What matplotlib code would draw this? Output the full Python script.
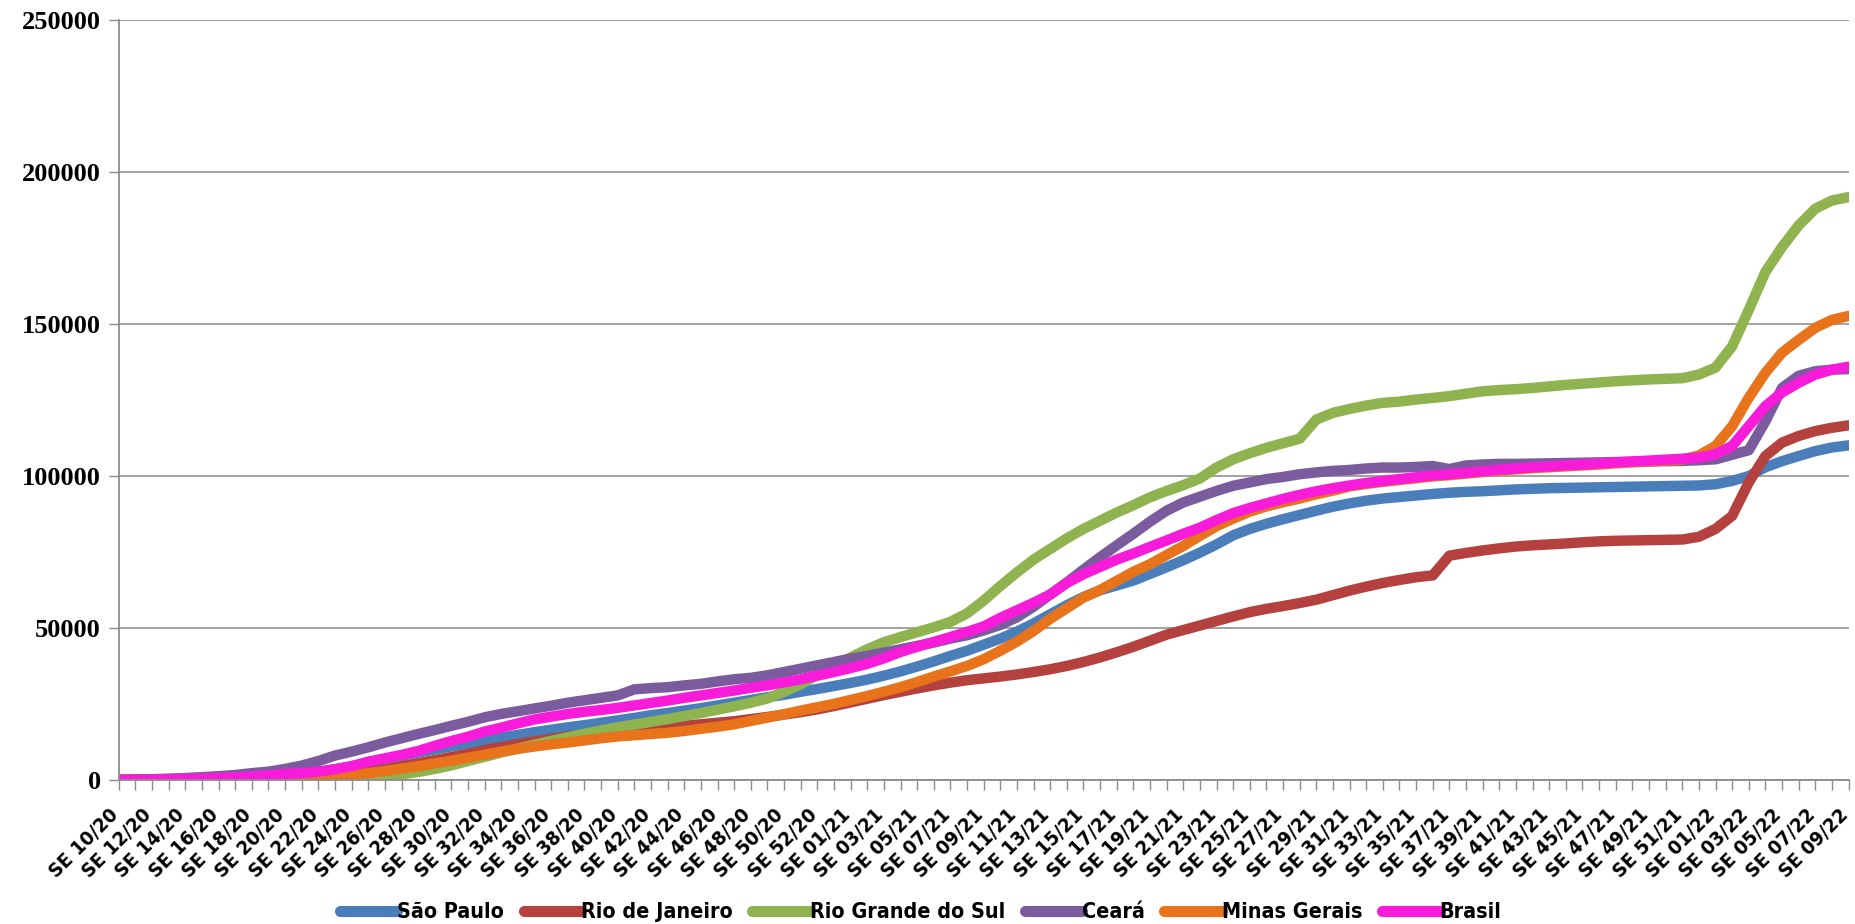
import matplotlib
matplotlib.use("Agg")
import matplotlib.pyplot as plt
from matplotlib import font_manager
from matplotlib.ticker import MultipleLocator, FixedLocator
from matplotlib.transforms import ScaledTranslation

# semanas epidemiologicas: SE 10/20 ... SE 53/20, SE 01/21 ... SE 52/21, SE 01/22 ... SE 09/22
semanas = ([f"SE {w:02d}/20" for w in range(10, 54)]
           + [f"SE {w:02d}/21" for w in range(1, 53)]
           + [f"SE {w:02d}/22" for w in range(1, 10)])

sao_paulo = [
    0, 50, 100, 150, 250, 400, 550, 750, 1000, 1300,
    1600, 2100, 2700, 3500, 4500, 5600, 6800, 7900, 9000, 10000,
    11000, 12000, 13000, 13900, 14800, 15700, 16500, 17300, 18000, 18800,
    19600, 20400, 21300, 22000, 22800, 23600, 24500, 25400, 26300, 27200,
    28000, 29000, 29900, 30900, 31900, 33000, 34300, 35700, 37300, 39000,
    40800, 42500, 44500, 46500, 48800, 51500, 54500, 57500, 60200, 62400,
    64000, 65600, 67800, 70000, 72300, 74800, 77500, 80500, 82600, 84300,
    85800, 87200, 88600, 89900, 91000, 91900, 92600, 93100, 93600, 94100,
    94500, 94800, 95000, 95300, 95600, 95800, 96000, 96100, 96200, 96300,
    96400, 96500, 96600, 96700, 96800, 96900, 97300, 98400, 100000, 102900,
    104900, 106600, 108200, 109400, 110100]

rio_janeiro = [
    0, 0, 0, 0, 0, 0, 0, 0, 0, 100,
    200, 400, 700, 1100, 1800, 2600, 3500, 4500, 5500, 6500,
    7500, 8600, 9800, 10800, 11800, 12700, 13500, 14300, 15000, 15600,
    16200, 16600, 17000, 17400, 17800, 18300, 18800, 19300, 20000, 20700,
    21500, 22300, 23200, 24300, 25500, 26700, 27900, 29000, 30100, 31100,
    32000, 32800, 33400, 34000, 34700, 35500, 36400, 37500, 38800, 40300,
    42000, 43800, 45800, 47800, 49300, 50800, 52300, 53800, 55200, 56300,
    57200, 58200, 59300, 60800, 62300, 63600, 64800, 65800, 66700, 67300,
    73800, 74700, 75500, 76200, 76800, 77200, 77500, 77800, 78200, 78500,
    78700, 78800, 78900, 79000, 79100, 80000, 82600, 86900, 97900, 106600,
    111000, 113200, 114800, 115900, 116700]

rio_grande_sul = [
    0, 0, 0, 0, 0, 0, 0, 0, 0, 0,
    0, 0, 0, 0, 300, 700, 1200, 1800, 2600, 3600,
    4800, 6200, 7600, 9000, 10300, 11600, 12800, 14000, 15200, 16300,
    17300, 18200, 19100, 20000, 21000, 22000, 23100, 24200, 25400, 26800,
    29000, 31500, 34500, 37500, 40300, 43000, 45300, 47000, 48600, 50200,
    52000, 54800, 59000, 63800, 68300, 72500, 76000, 79500, 82600, 85300,
    88000, 90400, 93000, 95100, 97000, 99200, 102800, 105500, 107500, 109300,
    110800, 112300, 118600, 120800, 122100, 123200, 124100, 124500, 125200, 125700,
    126300, 127100, 127900, 128300, 128600, 129000, 129500, 130000, 130400, 130800,
    131200, 131500, 131800, 132000, 132200, 133400, 135700, 142700, 154700, 167200,
    175400, 182500, 188000, 190700, 191800]

ceara = [
    0, 100, 200, 400, 600, 900, 1200, 1600, 2200, 2700,
    3600, 4700, 6200, 8000, 9300, 10700, 12300, 13700, 15100, 16400,
    17800, 19100, 20600, 21700, 22600, 23500, 24400, 25400, 26200, 27000,
    27800, 29800, 30200, 30500, 31100, 31600, 32400, 33100, 33600, 34400,
    35500, 36600, 37700, 38800, 39900, 40800, 41900, 43000, 44100, 45200,
    46500, 47600, 49200, 51000, 53500, 57000, 61000, 65000, 69200, 73300,
    77200, 81000, 85000, 88600, 91300, 93200, 95100, 96800, 97900, 99000,
    99700, 100600, 101200, 101700, 102000, 102500, 102800, 102800, 103000, 103300,
    102300, 103500, 103800, 104000, 104000, 104100, 104200, 104300, 104400, 104500,
    104600, 104700, 104800, 104900, 105000, 105200, 105500, 107000, 108500, 118000,
    129000, 133000, 134500, 135000, 135200]

minas_gerais = [
    0, 0, 0, 0, 0, 0, 0, 0, 0, 0,
    0, 0, 300, 1000, 1600, 2200, 2900, 3700, 4500, 5400,
    6300, 7300, 8300, 9300, 10200, 11000, 11700, 12300, 13000, 13700,
    14300, 14700, 15100, 15500, 16100, 16800, 17500, 18300, 19400, 20500,
    21600, 22800, 23900, 25000, 26300, 27600, 29000, 30500, 32200, 34000,
    35700, 37500, 39700, 42500, 45500, 49000, 53000, 56500, 60000, 62500,
    65500, 68500, 71000, 74000, 77000, 80300, 83500, 86000, 88300, 90000,
    91400, 92600, 94000, 95200, 96600, 97400, 98100, 98700, 99300, 99900,
    100300, 100800, 101300, 101800, 102200, 102600, 102900, 103200, 103500, 103800,
    104200, 104500, 104800, 105100, 105400, 106800, 109900, 116400, 125800, 134000,
    140600, 144800, 148800, 151400, 152700]

brasil = [
    0, 50, 100, 200, 300, 400, 600, 800, 1100, 1500,
    1900, 2200, 2700, 3500, 4500, 6000, 7100, 8200, 9500, 11200,
    12800, 14200, 15900, 17200, 18600, 19900, 20800, 21700, 22400, 23000,
    23700, 24500, 25300, 26100, 27000, 27800, 28600, 29400, 30300, 31100,
    32100, 33100, 34300, 35500, 36800, 38200, 40000, 42100, 43800, 45400,
    47000, 48700, 50500, 53300, 55800, 58300, 61000, 64800, 67700, 70100,
    72500, 74500, 76700, 78800, 81000, 83000, 85500, 87800, 89500, 91000,
    92500, 93800, 95000, 96000, 96900, 97700, 98400, 99000, 99600, 100200,
    100600, 101100, 101600, 102100, 102500, 102900, 103200, 103500, 103800, 104100,
    104500, 104800, 105100, 105400, 105700, 106100, 107200, 109900, 116400, 123000,
    127500, 130700, 133400, 135000, 136000]

series = [
    ("São Paulo", sao_paulo, "#4A7EBB"),
    ("Rio de Janeiro", rio_janeiro, "#B5413E"),
    ("Rio Grande do Sul", rio_grande_sul, "#8FB34E"),
    ("Ceará", ceara, "#7A5C9E"),
    ("Minas Gerais", minas_gerais, "#E8731A"),
    ("Brasil", brasil, "#F81CDA"),
]


def fonte_estreita():
    # procura uma fonte negrito e estreita (parecida com Calibri)
    preferidas = ["Carlito", "Liberation Sans Narrow", "Open Sans", "Noto Sans",
                  "Roboto", "DejaVu Sans"]
    fontes = font_manager.fontManager.ttflist
    for nome in preferidas:
        for f in fontes:
            if (f.name == nome and f.style == "normal"
                    and f.stretch in ("condensed", "semi-condensed", "extra-condensed")
                    and f.weight in (600, 700, "bold", "semibold", "demibold")):
                return font_manager.FontProperties(fname=f.fname)
    return None


fp = fonte_estreita()
if fp is not None:
    def rotulo(tamanho):
        p = fp.copy()
        p.set_size(tamanho)
        return p
    tam_x, tam_leg = 14.5, 15.4
else:
    def rotulo(tamanho):
        return font_manager.FontProperties(family="DejaVu Sans", weight="bold",
                                           stretch="condensed", size=tamanho)
    tam_x, tam_leg = 11.5, 13

fig = plt.figure(figsize=(18.56, 9.24), dpi=100)
ax = fig.add_axes([0.064, 0.156, 0.932, 0.822])

x = list(range(len(semanas)))
for nome, valores, cor in series:
    ax.plot(x, valores, color=cor, linewidth=7.5, solid_capstyle="round",
            solid_joinstyle="round", label=nome)

ax.set_xlim(0, len(semanas) - 1)
ax.set_ylim(0, 250000)

ax.yaxis.set_major_locator(MultipleLocator(50000))
ax.grid(axis="y", color="#9A9A9A", linewidth=1.3)
ax.set_axisbelow(True)

ax.xaxis.set_major_locator(FixedLocator(x[::2]))
ax.xaxis.set_minor_locator(FixedLocator(x[1::2]))
ax.tick_params(axis="x", which="both", length=7, color="#8C8C8C", width=1, pad=2)
ax.tick_params(axis="y", length=7, color="#8C8C8C", width=1, pad=6)
ax.set_xticklabels(semanas[::2], rotation=45, ha="right", va="top",
                   rotation_mode="anchor", fontproperties=rotulo(tam_x))
# desloca os rotulos um pouco para a esquerda e para baixo (como no Excel)
deslocamento = ScaledTranslation(-10 / 100, -13 / 100, fig.dpi_scale_trans)
for tick in ax.xaxis.get_major_ticks():
    tick.label1.set_transform(tick.label1.get_transform() + deslocamento)
for lbl in ax.get_yticklabels():
    lbl.set_family("Liberation Serif")
    lbl.set_fontweight("bold")
    lbl.set_fontsize(19)

for lado in ["top", "right"]:
    ax.spines[lado].set_visible(False)
for lado in ["left", "bottom"]:
    ax.spines[lado].set_color("#8C8C8C")
    ax.spines[lado].set_linewidth(1.3)

leg = fig.legend(loc="center", bbox_to_anchor=(0.496, 0.013), ncol=6, frameon=False,
                 handlelength=2.7, handletextpad=0.0, columnspacing=0.9,
                 prop=rotulo(tam_leg))
for linha in leg.get_lines():
    linha.set_linewidth(8)

fig.savefig("out.png", dpi=100)
